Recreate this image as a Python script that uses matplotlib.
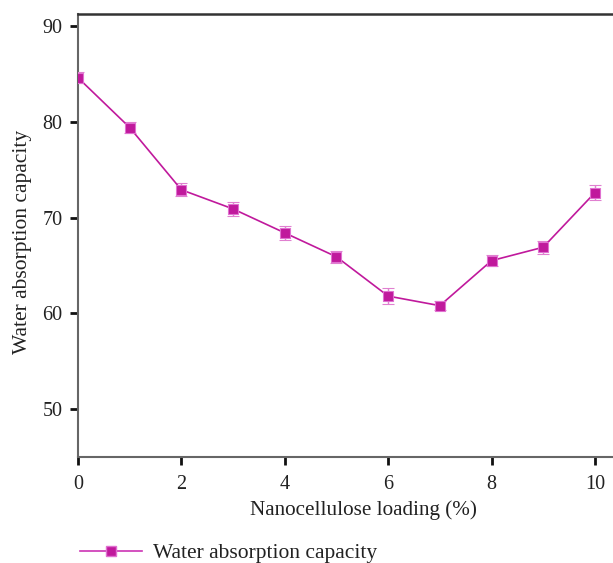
import matplotlib
matplotlib.use("Agg")
import matplotlib.pyplot as plt
from matplotlib.lines import Line2D

loading = [0, 1, 2, 3, 4, 5, 6, 7, 8, 9, 10]
capacity = [84.6, 79.4, 72.9, 70.9, 68.4, 65.9, 61.8, 60.8, 65.5, 66.9, 72.6]
errors = [0.6, 0.6, 0.7, 0.7, 0.7, 0.6, 0.8, 0.5, 0.6, 0.7, 0.8]
series_name = "Water absorption capacity"
xticks = [0, 2, 4, 6, 8, 10]
yticks = [50, 60, 70, 80, 90]

plt.rcParams['font.family'] = ['Liberation Serif', 'DejaVu Serif']
color = '#c0199c'

fig = plt.figure(figsize=(6.13, 5.63), dpi=100)
ax = fig.add_axes([0.1272, 0.1883, 0.8728, 0.7868])
ax.errorbar(loading, capacity, yerr=errors, color=color, lw=1.2, marker='s',
            ms=7, mfc=color, mec='#e070d0', mew=0.8, ecolor='#e080d0',
            elinewidth=1.0, capsize=4, capthick=1.0, zorder=3)
ax.set_xlim(0, 10.35)
ax.set_ylim(45, 91.25)
ax.set_xticks(xticks)
ax.set_yticks(yticks)
ax.tick_params(axis='both', direction='out', length=6, width=2, color='#111111',
               labelsize=14.5, pad=5, labelcolor='#222222')
ax.tick_params(axis='x', pad=7)
for s in ['left', 'bottom']:
    ax.spines[s].set_color('#666666')
    ax.spines[s].set_linewidth(1.5)
ax.spines['top'].set_color('#333333')
ax.spines['top'].set_linewidth(1.8)
ax.spines['right'].set_visible(False)
ax.set_xlabel("Nanocellulose loading (%)", fontsize=15.2, color='#222222')
ax.set_ylabel(series_name, fontsize=15.5, color='#222222')
ax.xaxis.set_label_coords(0.533, -0.097)
ax.yaxis.set_label_coords(-0.086, 0.485)

handle = Line2D([0], [0], color='#cc33b4', lw=1.2, marker='s', ms=7, mfc=color, mec='#e070d0')
fig.legend([handle], [series_name], loc='center left', bbox_to_anchor=(0.0985, 0.017),
           frameon=False, fontsize=15.5, handlelength=2.9, handletextpad=0.5,
           labelcolor='#222222')

fig.savefig("out.png", dpi=100)
